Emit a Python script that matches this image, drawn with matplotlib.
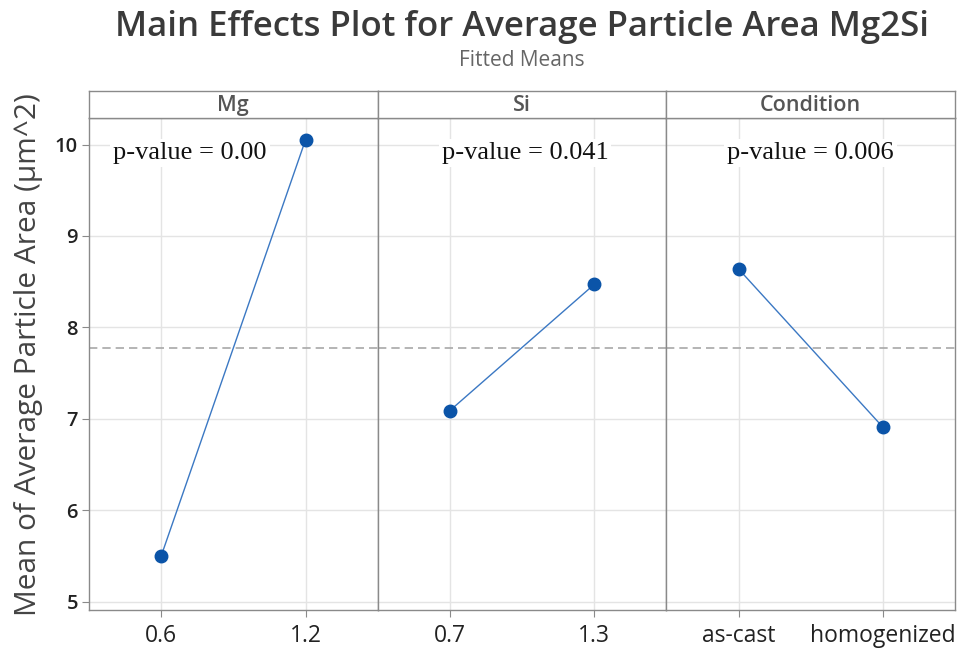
import matplotlib
matplotlib.use("Agg")
import matplotlib.pyplot as plt

# Fitted means for each factor level
factors = ["Mg", "Si", "Condition"]
levels = [["0.6", "1.2"], ["0.7", "1.3"], ["as-cast", "homogenized"]]
means = [[5.50, 10.05], [7.09, 8.47], [8.64, 6.91]]
p_labels = ["p-value = 0.00", "p-value = 0.041", "p-value = 0.006"]
grand_mean = 7.78
y_ticks = [5, 6, 7, 8, 9, 10]

W, H = 962, 650
fig = plt.figure(figsize=(W / 100, H / 100), dpi=100)
fig.patch.set_facecolor("white")

left_px, right_px = 89, 955
top_px, bottom_px, strip_top_px = 118, 610, 91
panel_w = (right_px - left_px) / 3

frame_col = "#8a8a8a"
grid_col = "#e4e4e4"
line_col = "#3b78c3"
dot_col = "#0b54a8"
sans = ["Open Sans", "DejaVu Sans"]

ylim = (4.91, 10.29)
p_x = [0.35, 0.51, 0.50]

for i, name in enumerate(factors):
    x0 = (left_px + i * panel_w) / W
    ax = fig.add_axes([x0, 1 - bottom_px / H, panel_w / W, (bottom_px - top_px) / H])
    xs = [0.25, 0.75]
    ax.set_xlim(0, 1)
    ax.set_ylim(*ylim)
    ax.axhline(grand_mean, color="#a8a8a8", lw=1.2, ls=(0, (5, 3)), zorder=2)
    ax.plot(xs, means[i], color=line_col, lw=1.0, zorder=3)
    ax.plot(xs, means[i], "o", color=dot_col, ms=9, zorder=4)
    ax.set_xticks(xs)
    ax.set_xticklabels(levels[i], fontsize=16.5, color="#222222", family=sans)
    ax.tick_params(axis="x", length=5, color=frame_col, pad=5)
    ax.set_yticks(y_ticks)
    ax.grid(True, color=grid_col, lw=1.0, zorder=0)
    ax.set_axisbelow(True)
    for s in ax.spines.values():
        s.set_color(frame_col)
        s.set_linewidth(1.0)
    if i == 0:
        ax.set_yticklabels([str(t) for t in y_ticks], fontsize=14.5,
                           fontweight="semibold", color="#222222", family=sans)
        ax.tick_params(axis="y", length=5, color=frame_col, pad=3)
    else:
        ax.tick_params(axis="y", length=0, labelleft=False)
    ax.text(p_x[i], 9.91, p_labels[i], ha="center", va="center",
            fontsize=19, family=["Liberation Serif", "DejaVu Serif"], color="#111111",
            zorder=5, bbox=dict(facecolor="white", edgecolor="none", pad=2))

    # header strip with factor name
    sax = fig.add_axes([x0, 1 - top_px / H, panel_w / W, (top_px - strip_top_px) / H])
    sax.set_xticks([])
    sax.set_yticks([])
    for s in sax.spines.values():
        s.set_color(frame_col)
        s.set_linewidth(1.0)
    sax.text(0.5, 0.45, name, ha="center", va="center", fontsize=15.5,
             fontweight="semibold", color="#555555", family=sans,
             transform=sax.transAxes)

fig.text(0.030, 1 - 355 / H, "Mean of Average Particle Area (µm^2)", rotation=90,
         ha="center", va="center", fontsize=21.5, color="#444444", family=sans)
fig.text(522 / W, 1 - 27 / H, "Main Effects Plot for Average Particle Area Mg2Si",
         ha="center", va="center", fontsize=25, fontweight="semibold",
         color="#3a3a3a", family=sans)
fig.text(522 / W, 1 - 61 / H, "Fitted Means", ha="center", va="center",
         fontsize=15, color="#666666", family=sans)

fig.savefig("out.png", dpi=100)
